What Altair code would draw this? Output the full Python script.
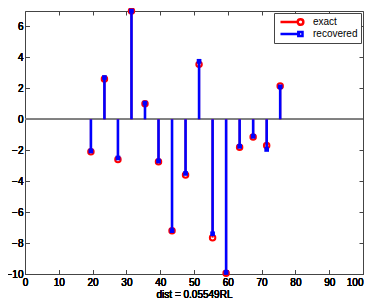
import altair as alt
import pandas as pd

positions = [19.5, 23.5, 27.5, 31.5, 35.5, 39.5, 43.5, 47.5, 51.5, 55.5, 59.5, 63.5, 67.5, 71.5, 75.5]
exact = [-2.1, 2.6, -2.6, 7.0, 1.0, -2.75, -7.2, -3.6, 3.55, -7.65, -9.95, -1.8, -1.15, -1.7, 2.15]
recovered = [-2.05, 2.7, -2.5, 7.0, 1.05, -2.7, -7.2, -3.5, 3.75, -7.4, -9.9, -1.75, -1.1, -1.95, 2.1]
series_names = ["exact", "recovered"]
series_colors = ["#ff0000", "#0000ff"]
x_ticks = list(range(0, 101, 10))
y_ticks = list(range(-10, 7, 2))
x_title = "dist = 0.05549RL"

df = pd.DataFrame({"pos": positions, "exact": exact, "recovered": recovered, "zero": [0.0] * len(positions)})
leg_df = pd.DataFrame({"series": series_names, "pos": [positions[0]] * 2, "val": [exact[0], recovered[0]]})

FONT = "Liberation Sans"
FRAME = "#444444"
xs = alt.Scale(domain=[0, 100], nice=False, zero=False)
ys = alt.Scale(domain=[-10, 7], nice=False, zero=False)

x_bottom = alt.Axis(values=x_ticks, orient="bottom", title=x_title, offset=-4, tickSize=4,
                    domain=False, grid=False, labelPadding=3, titlePadding=2,
                    labelFont=FONT, titleFont=FONT, labelFontSize=10, titleFontSize=10,
                    titleFontWeight="normal", labelColor="black", titleColor="black",
                    tickColor=FRAME, labelFlush=False,
                    labelAlign={"condition": {"test": "datum.value == 100", "value": "right"}, "value": "center"})
y_left = alt.Axis(values=y_ticks, orient="left", title=None, offset=-4, tickSize=4,
                  domain=False, grid=False, labelPadding=2, labelFont=FONT, labelFontSize=10,
                  labelColor="black", tickColor=FRAME, labelFlush=False)
x_top = alt.Axis(values=x_ticks, orient="top", title=None, labels=False, offset=-4, tickSize=4,
                 domain=False, grid=False, tickColor=FRAME)
y_right = alt.Axis(values=y_ticks, orient="right", title=None, labels=False, offset=-4, tickSize=4,
                   domain=False, grid=False, tickColor=FRAME)

base = alt.Chart(df)

zero_line = base.mark_rule(color="#808080", strokeWidth=1).encode(
    x=alt.datum(0, scale=xs, axis=x_top),
    x2=alt.datum(100),
    y=alt.datum(0, scale=ys, axis=y_right),
)

red_stems = base.mark_rule(color="#ff0000", strokeWidth=2).encode(
    x=alt.X("pos:Q", scale=xs, axis=x_bottom),
    y=alt.Y("zero:Q", scale=ys, axis=y_left),
    y2="exact:Q",
)
red_pts = base.mark_point(shape="circle", filled=False, color="#ff0000", strokeWidth=2, size=30, opacity=1).encode(
    x=alt.X("pos:Q", scale=xs, axis=x_bottom),
    y=alt.Y("exact:Q", scale=ys, axis=y_left),
)
blue_stems = base.mark_rule(color="#0000ff", strokeWidth=2.6).encode(
    x=alt.X("pos:Q", scale=xs, axis=x_bottom),
    y=alt.Y("zero:Q", scale=ys, axis=y_left),
    y2="recovered:Q",
)
blue_pts = base.mark_square(color="#0000ff", size=22, opacity=1).encode(
    x=alt.X("pos:Q", scale=xs, axis=x_bottom),
    y=alt.Y("recovered:Q", scale=ys, axis=y_left),
)

exact_sym = "M-0.67,0H2.2M3.14,0A0.47,0.47 0 1,1 2.2,0A0.47,0.47 0 1,1 3.14,0"
rec_sym = "M-0.67,0H2.6M2.3,-0.33H3.0V0.33H2.3Z"
legend_layer = alt.Chart(leg_df).mark_point(opacity=0, filled=False, strokeWidth=2).encode(
    x=alt.X("pos:Q", scale=xs, axis=x_bottom),
    y=alt.Y("val:Q", scale=ys, axis=y_left),
    color=alt.Color("series:N", scale=alt.Scale(domain=series_names, range=series_colors),
                    legend=alt.Legend(title=None, orient="top-right", offset=2,
                                      symbolOpacity=1, symbolSize=144, symbolStrokeWidth=2.5,
                                      labelFont=FONT, labelFontSize=10, labelColor="black",
                                      strokeColor=FRAME, fillColor="white", padding=3,
                                      rowPadding=0, labelOffset=21, clipHeight=12)),
    shape=alt.Shape("series:N", scale=alt.Scale(domain=series_names, range=[exact_sym, rec_sym])),
)

chart = alt.layer(zero_line, red_stems, red_pts, blue_stems, blue_pts, legend_layer).resolve_axis(
    x="independent", y="independent"
).properties(
    width=338, height=263,
    autosize=alt.AutoSizeParams(type="none"),
    padding={"left": 17, "top": 3, "right": 10, "bottom": 28},
).configure_view(stroke=FRAME, strokeWidth=1)

chart.save("out.html", embed_options={"renderer": "svg", "actions": False})
